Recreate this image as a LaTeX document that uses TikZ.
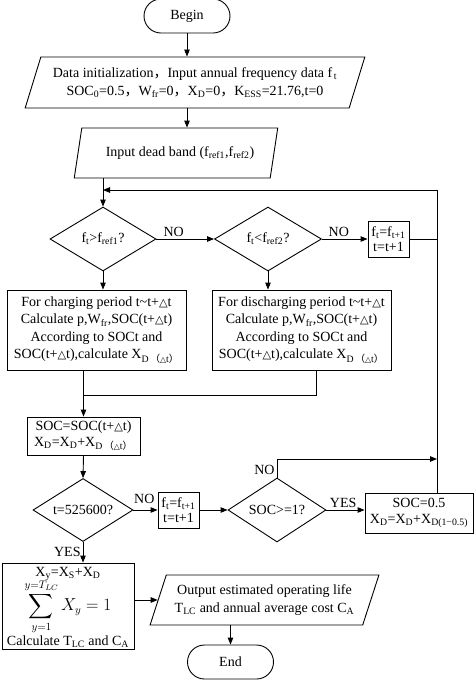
\documentclass[tikz,border=0pt]{standalone}
\usepackage{amsmath}
\usepackage{fontspec}
\setmainfont{Liberation Serif}
\newfontfamily\cjk{Noto Sans CJK SC}
\newfontfamily\symf[Scale=0.8]{DejaVu Sans}
\usetikzlibrary{shapes.geometric,shapes.misc,arrows.meta,positioning,calc}
\newcommand{\sbs}[1]{\textsubscript{#1}}
\newcommand{\fw}[1]{{\cjk #1}}
\newcommand{\dt}{{\symf △}t}

\begin{document}
\begin{tikzpicture}[x=1pt,y=-1pt,
    font=\fontsize{14}{17.5}\selectfont,
    line width=0.9pt,
    arr/.style={-{Triangle[length=7pt,width=5.5pt]}},
    term/.style={draw, rounded rectangle, minimum width=86pt, minimum height=34pt, inner sep=0pt},
    io/.style={draw, trapezium, trapezium left angle=64, trapezium right angle=116,
        trapezium stretches=true, inner xsep=0pt, inner ysep=0pt, align=center},
    box/.style={draw, rectangle, inner sep=2pt, align=center},
    dec/.style={draw, diamond, inner sep=0pt, aspect=1.6},
    lbl/.style={inner sep=2pt}]
    \useasboundingbox (0,0) rectangle (474,681);

    % Start and input
    \node[term] (begin) at (187,16) {Begin};
    \node[io, minimum width=340pt, minimum height=51pt] (init) at (195,82.5)
        {Data initialization\fw{，}Input annual frequency data f\sbs{\,t}\\
         SOC\sbs{0}=0.5\fw{，}W\sbs{fr}=0\fw{，}X\sbs{D}=0\fw{，}K\sbs{ESS}=21.76,t=0};
    \node[io, minimum width=204pt, minimum height=50pt] (band) at (176,153)
        {\hspace{8pt}Input dead band (f\sbs{ref1},f\sbs{ref2})};

    \draw[arr] (begin.south) -- (begin.south |- init.north);
    \draw[arr] (begin.south |- init.south) -- (begin.south |- band.north);

    % Dead band checks
    \node[dec, minimum width=106pt, minimum height=64pt] (d1) at (103,239) {f\sbs{t}>f\sbs{ref1}?};
    \node[dec, minimum width=107pt, minimum height=64pt] (d2) at (268,239) {f\sbs{t}<f\sbs{ref2}?};
    \node[box, minimum width=41pt, minimum height=36pt, inner sep=1pt] (next1) at (388.5,239)
        {f\sbs{t}=f\sbs{t+1}\\[-3pt] t=t+1};
    \coordinate (back) at (437,190);

    \draw[arr] (d1.north |- band.south) -- (d1.north);
    \draw[arr] (d1.east) -- node[lbl, above, pos=0.3] {NO} (d2.west);
    \draw[arr] (d2.east) -- node[lbl, above, pos=0.37] {NO} (next1.west);
    \draw (next1.east) -- (next1.east -| back);

    % Charging / discharging
    \node[box, minimum width=179pt, minimum height=80pt] (chg) at (96.5,330)
        {For charging period t\textasciitilde t+\dt\\
         Calculate p,W\sbs{fr},SOC(t+\dt)\\
         According to SOCt and\\
         SOC(t+\dt),calculate X\sbs{D\,\fw{（}\dt\fw{）}}};
    \node[box, minimum width=179pt, minimum height=80pt] (dis) at (301.5,330)
        {For discharging period t\textasciitilde t+\dt\\
         Calculate p,W\sbs{fr},SOC(t+\dt)\\
         According to SOCt and\\
         SOC(t+\dt),calculate X\sbs{D\,\fw{（}\dt\fw{）}}};

    \draw[arr] (d1.south) -- (d1.south |- chg.north);
    \draw[arr] (d2.south) -- (d2.south |- dis.north);

    \node[box, minimum width=113pt, minimum height=38pt, inner sep=1pt] (soc) at (83.5,436)
        {SOC=SOC(t+\dt)\\[-2pt] X\sbs{D}=X\sbs{D}+X\sbs{D\,\fw{（}\dt\fw{）}}};
    \coordinate (join) at (83.5,395);
    \coordinate (joinr) at (316,395);
    \draw (chg.south -| join) -- (join) -- (joinr) -- (joinr |- dis.south);
    \draw[arr] (join) -- (soc.north);

    % End of year / SOC checks
    \node[dec, minimum width=100pt, minimum height=63pt] (d3) at (83,510) {t=525600?};
    \node[box, minimum width=41pt, minimum height=36pt, inner sep=1pt] (next2) at (178.5,510)
        {f\sbs{t}=f\sbs{t+1}\\[-3pt] t=t+1};
    \node[dec, minimum width=98pt, minimum height=64pt] (d4) at (277,510) {SOC>=1?};
    \node[box, minimum width=108pt, minimum height=40pt, inner sep=1pt] (reset) at (419,513)
        {SOC=0.5\\[-1pt] X\sbs{D}=X\sbs{D}+X\sbs{D(1−0.5)}};
    \coordinate (up) at (277,459);

    \draw[arr] (soc.south) -- (d3.north);
    \draw[arr] (d3.east) -- node[lbl, above, pos=0.45, yshift=4pt] {NO} (next2.west);
    \draw[arr] (next2.east) -- (d4.west);
    \draw[arr] (d4.east) -- node[lbl, above, pos=0.44] {YES} (d4.east -| reset.west);
    \draw[arr] (d4.north) node[lbl, anchor=south east] {NO} -- (up) -- (up -| back);
    \draw[arr] (reset.north -| back) -- (back) -- (back -| d1.north);

    % Life estimate and output
    \node[draw, rectangle, minimum width=132pt, minimum height=86pt] (life) at (68,606) {};
    \node (xsum) at (68,574) {X\sbs{y}=X\sbs{S}+X\sbs{D}};
    \node (sum) at (68,607) {\fontsize{16}{19}\selectfont$\displaystyle\sum_{y=1}^{y=T_{LC}}X_y=1$};
    \node (calc) at (68,642) {Calculate T\sbs{LC} and C\sbs{A}};
    \node[io, minimum width=229pt, minimum height=50pt] (out) at (264.5,600)
        {Output estimated operating life\\
         T\sbs{LC} and annual average cost C\sbs{A}};
    \node[term] (end) at (230.5,662) {End};

    \draw[arr] (d3.south) -- node[lbl, left] {YES} (d3.south |- life.north);
    \draw[arr] (life.east |- out.west) -- (out.west);
    \draw[arr] (end.north |- out.south) -- (end.north);

\end{tikzpicture}
\end{document}
